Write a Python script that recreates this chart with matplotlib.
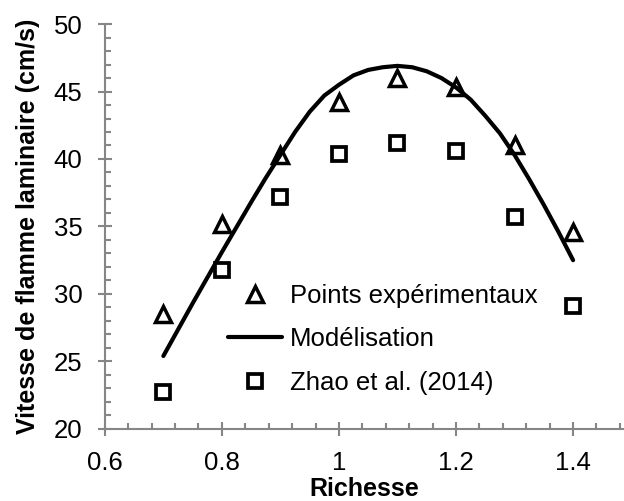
import matplotlib.pyplot as plt
from matplotlib.ticker import MultipleLocator

# Measured data
richesse = [0.7, 0.8, 0.9, 1.0, 1.1, 1.2, 1.3, 1.4]
exp_points = [28.5, 35.2, 40.3, 44.2, 46.0, 45.3, 41.0, 34.6]
zhao_2014 = [22.7, 31.8, 37.2, 40.4, 41.2, 40.6, 35.7, 29.1]

# Model curve
model_x = [0.700, 0.750, 0.800, 0.850, 0.875, 0.900, 0.925, 0.950, 0.975,
           1.000, 1.025, 1.050, 1.075, 1.100, 1.125, 1.150, 1.175, 1.200,
           1.225, 1.250, 1.275, 1.300, 1.325, 1.350, 1.375, 1.400]
model_y = [25.4, 29.3, 33.1, 36.8, 38.6, 40.3, 42.0, 43.5, 44.7,
           45.5, 46.2, 46.6, 46.8, 46.9, 46.8, 46.5, 46.0, 45.3,
           44.4, 43.2, 41.9, 40.3, 38.5, 36.6, 34.6, 32.5]

plt.rcParams['font.family'] = ['Liberation Sans', 'DejaVu Sans']

fig = plt.figure(figsize=(6.24, 5.01), dpi=100)
ax = fig.add_axes([0.168, 0.144, 0.832, 0.808])

ax.plot(richesse, exp_points, linestyle='none', marker='^', markersize=11,
        markerfacecolor='white', markeredgecolor='black', markeredgewidth=2.5,
        label='Points expérimentaux')
ax.plot(model_x, model_y, color='black', linewidth=3, solid_joinstyle='round',
        solid_capstyle='round', label='Modélisation')
ax.plot(richesse, zhao_2014, linestyle='none', marker='s', markersize=10.5,
        markerfacecolor='white', markeredgecolor='black', markeredgewidth=2.7,
        label='Zhao et al. (2014)')

ax.set_xlim(0.6, 1.487)
ax.set_ylim(20, 50)
ax.xaxis.set_minor_locator(MultipleLocator(0.04))
ax.yaxis.set_major_locator(MultipleLocator(5))
ax.yaxis.set_minor_locator(MultipleLocator(1))
ax.set_xticks([0.6, 0.8, 1.0, 1.2, 1.4])
ax.set_xticklabels(['0.6', '0.8', '1', '1.2', '1.4'])

for side in ['top', 'right']:
    ax.spines[side].set_visible(False)
for side in ['left', 'bottom']:
    ax.spines[side].set_color('#868686')
    ax.spines[side].set_linewidth(1.5)

ax.tick_params(which='major', direction='inout', length=10.5, width=1.5,
               color='#868686', labelsize=18.5)
ax.tick_params(axis='y', which='major', pad=11)
ax.tick_params(axis='x', which='major', pad=11)
ax.tick_params(which='minor', direction='in', length=4.5, width=1.5,
               color='#868686')

ax.set_xlabel('Richesse', fontsize=18, fontweight='bold', labelpad=1)
ax.set_ylabel('Vitesse de flamme laminaire (cm/s)', fontsize=18,
              fontweight='bold', labelpad=10)

ax.legend(loc='upper left', bbox_to_anchor=(0.218, 0.384), frameon=False,
          fontsize=18.5, numpoints=1, handlelength=2.1, handletextpad=0.3,
          labelspacing=0.77, borderaxespad=0)

fig.savefig('out.png', dpi=100)
